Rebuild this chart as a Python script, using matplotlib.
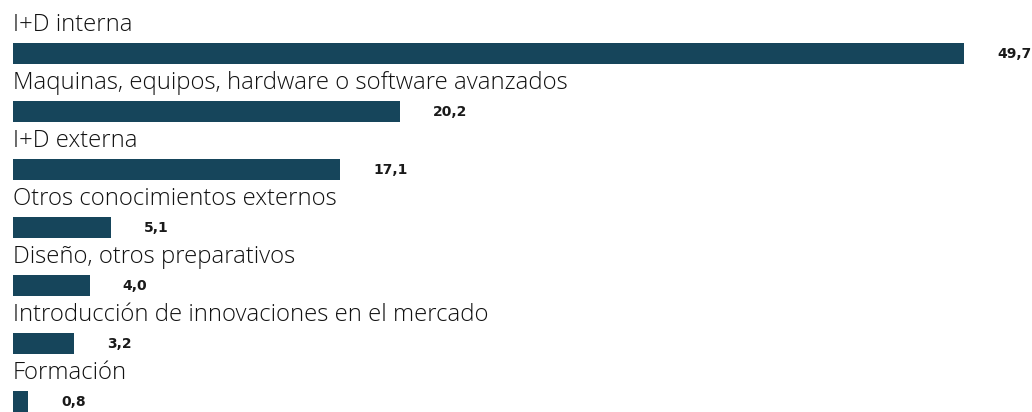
import matplotlib
matplotlib.use("Agg")
import matplotlib.pyplot as plt

categories = [
    "I+D interna",
    "Maquinas, equipos, hardware o software avanzados",
    "I+D externa",
    "Otros conocimientos externos",
    "Diseño, otros preparativos",
    "Introducción de innovaciones en el mercado",
    "Formación",
]
values = [49.7, 20.2, 17.1, 5.1, 4.0, 3.2, 0.8]

BAR_COLOR = "#16455b"
ROW_PX = 58.0

fig = plt.figure(figsize=(10.32, 4.12), dpi=100)
ax = fig.add_axes([0, 0, 1, 1])
ax.set_xlim(-13 / 19.135, (1032 - 13) / 19.135)
ax.set_ylim(6 + 10.5 / ROW_PX, -53.5 / ROW_PX)
ax.axis("off")

ys = list(range(len(values)))
ax.barh(ys, values, height=21 / ROW_PX, color=BAR_COLOR)

for y, label, v in zip(ys, categories, values):
    ax.text(0, y - 22.5 / ROW_PX, label, ha="left", va="baseline",
            fontsize=17.2, family="Open Sans", fontweight="light", color="#111111")
    ax.annotate(f"{v:.1f}".replace(".", ","), xy=(v, y), xytext=(33, 0),
                textcoords="offset pixels", ha="left", va="center",
                fontsize=10, fontweight="bold", family="DejaVu Sans", color="#1a1a1a")

fig.savefig("out.png", dpi=100)
